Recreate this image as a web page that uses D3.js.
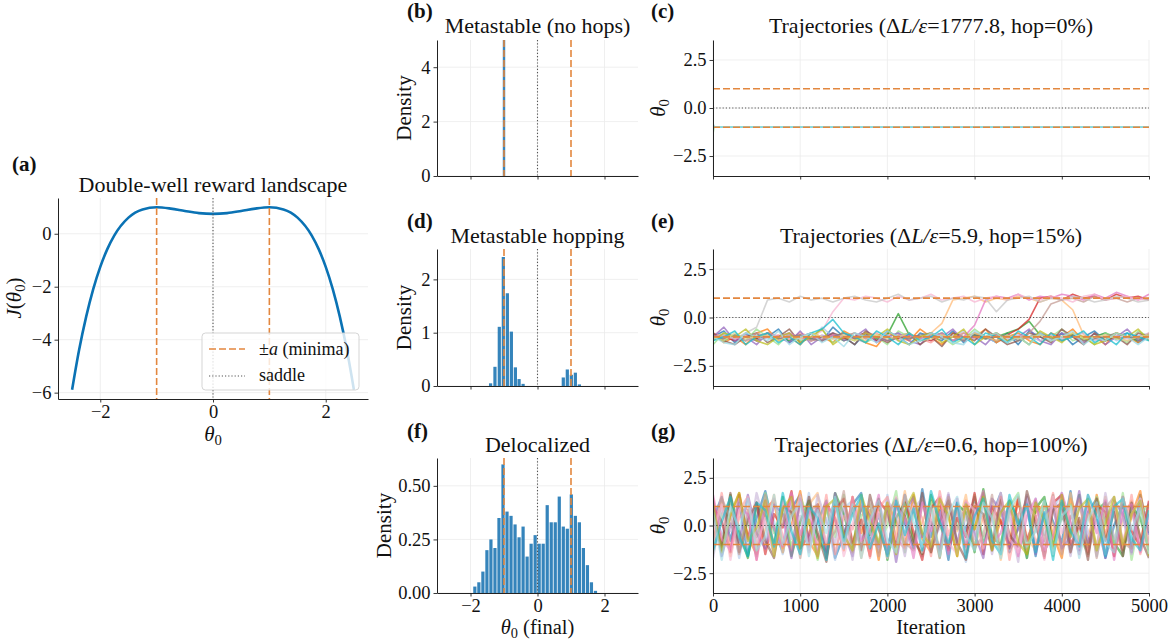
<!DOCTYPE html>
<html>
<head>
<meta charset="utf-8">
<script src="https://cdn.jsdelivr.net/npm/d3@7"></script>
<style>
body{margin:0;background:#fff}
svg text{font-family:"Liberation Serif","Times New Roman",serif;fill:#111}
</style>
</head>
<body>
<svg id="fig" width="1168" height="640"></svg>
<script>
// ---------- data ----------
const aTheta = [-2.5,-2.375,-2.25,-2.125,-2,-1.875,-1.75,-1.5,-1.25,-1,-0.75,-0.5,-0.25,0,0.25,0.5,0.75,1,1.25,1.5,1.75,1.875,2,2.125,2.25,2.375,2.5];
const aJ = [-5.89,-4.38,-3.13,-2.09,-1.25,-0.58,-0.06,0.61,0.92,1.0,0.95,0.86,0.78,0.75,0.78,0.86,0.95,1.0,0.92,0.61,-0.06,-0.58,-1.25,-2.09,-3.13,-4.38,-5.89];
const minima = [-1, 1];
const saddle = [0];

const aXTicks = [-2, 0, 2], aXLabels = ['−2', '0', '2'];
const aYTicks = [-6, -4, -2, 0], aYLabels = ['−6', '−4', '−2', '0'];
const histXTicks = [-2, 0, 2], histXLabels = ['−2', '0', '2'];
const bYTicks = [0, 2, 4], bYLabels = ['0', '2', '4'];
const dYTicks = [0, 1, 2], dYLabels = ['0', '1', '2'];
const fYTicks = [0, 0.25, 0.5], fYLabels = ['0.00', '0.25', '0.50'];
const trajXTicks = [0, 1000, 2000, 3000, 4000, 5000];
const trajXLabels = ['0', '1000', '2000', '3000', '4000', '5000'];
const trajYTicks = [-2.5, 0, 2.5], trajYLabels = ['−2.5', '0.0', '2.5'];

// histograms (bin centres, density)
const bBins = [-1.0], bDensity = [5.0], bWidth = 0.09;
const dBins = [-1.40,-1.27,-1.14,-1.02,-0.90,-0.78,-0.66,-0.55,-0.43,0.77,0.89,1.01,1.13,1.25];
const dDensity = [0.05,0.36,1.11,2.42,1.74,1.02,0.35,0.13,0.04,0.16,0.31,0.21,0.25,0.03];
const dWidth = 0.12;
const fBins = [-1.87,-1.75,-1.63,-1.51,-1.39,-1.27,-1.15,-1.03,-0.91,-0.79,-0.67,-0.55,-0.43,-0.31,-0.19,-0.07,0.05,0.17,0.29,0.41,0.53,0.65,0.77,0.89,1.01,1.13,1.25,1.37,1.49,1.61,1.73];
const fDensity = [0.03,0.05,0.10,0.20,0.25,0.21,0.35,0.60,0.38,0.36,0.32,0.26,0.31,0.17,0.23,0.27,0.23,0.23,0.41,0.33,0.33,0.45,0.31,0.30,0.46,0.36,0.33,0.21,0.13,0.05,0.01];
const fWidth = 0.12;

const tab20 = ['#1f77b4','#aec7e8','#ff7f0e','#ffbb78','#2ca02c','#98df8a','#d62728','#ff9896','#9467bd','#c5b0d5',
               '#8c564b','#c49c94','#e377c2','#f7b6d2','#7f7f7f','#c7c7c7','#bcbd22','#dbdb8d','#17becf','#9edae5'];

// (c) trajectories: all stuck at the left well
const cIters = [0, 12, 5000];
const cTraj = [[-1.35,-1.0,-1.0],[-0.8,-1.0,-1.0],[-1.1,-1.0,-1.0]];
const cColors = ['#98df8a','#17becf','#9edae5'];

// (e) trajectories, sampled evenly over 0..5000 iterations
const eTraj = [
 [-1.0,-0.7,-1.3,-0.8,-1.2,-1.0,-0.6,-1.3,-1.0,-0.8,-1.2,-0.5,-1.0,-1.4,-0.8,-1.2,-0.7,-1.0,-1.4,-0.8,-1.0,-1.2,-0.7,-1.3,-0.9,-1.0,-1.3,-0.8,-1.4,-0.7,-1.0,-1.2,-0.8,-1.4,-1.0,-0.7,-1.2,-1.0,-0.8,-1.3,-1.0],
 [-1.1,-0.8,-1.0,-1.2,-0.9,-1.1,-1.0,-0.8,-1.2,-1.1,-0.5,-1.0,-0.9,-1.1,-1.3,-0.9,-1.0,-0.8,-1.1,-1.0,-1.2,-0.9,-1.0,-0.7,-1.1,-1.0,-1.3,-0.9,-1.0,-1.1,-0.8,-1.0,-1.2,-0.9,-1.1,-1.0,-0.8,-1.2,-1.0,-0.9,-1.1],
 [-0.8,-1.3,-1.0,-1.4,-0.8,-0.6,-1.2,-1.0,-1.4,-0.8,-1.0,-1.3,-0.7,-1.0,-1.3,-1.5,-0.8,-1.0,-1.2,-0.6,-1.0,-1.4,-0.8,-1.2,-1.0,-0.6,-1.3,-1.0,-0.8,-1.2,-1.4,-0.8,-1.0,-0.6,-1.2,-1.0,-1.4,-0.8,-1.0,-1.3,-0.8],
 [-1.0,-1.1,-0.9,-1.2,-1.0,-0.8,-1.1,-1.0,-0.9,-1.2,-1.0,-1.1,-0.8,-1.0,-1.2,-0.9,-1.0,-1.1,-0.9,-1.0,-0.8,-0.3,0.9,1.0,1.1,0.8,1.0,0.9,1.1,1.0,0.8,1.0,0.9,0.4,-0.9,-1.0,-1.1,-0.8,-1.0,-1.2,-0.9],
 [-1.0,-1.2,-0.9,-1.0,-1.1,-0.8,-1.0,-1.2,-0.9,-1.1,-1.0,-0.9,-1.2,-1.0,-0.8,-1.1,-0.9,0.2,-0.9,-1.1,-1.0,-0.8,-1.2,-1.0,-0.9,-1.1,-1.0,-0.8,-0.6,-0.2,-0.9,-1.0,-1.2,-0.9,-1.1,-1.0,-0.8,-1.1,-1.0,-1.2,-0.9],
 [-1.4,-0.8,-1.0,-1.2,-0.6,-1.0,-1.4,-0.8,-1.2,-1.0,-0.6,-1.3,-1.0,-0.8,-1.3,-1.0,-1.4,-0.7,-1.0,-1.2,-0.8,-1.0,-1.4,-1.1,-0.6,-1.0,-0.8,-1.3,-1.0,-1.4,-0.8,-1.0,-0.6,-1.2,-1.0,-1.4,-0.8,-1.0,-1.3,-0.7,-1.0],
 [-0.9,-1.0,-1.2,-1.0,-1.1,-0.8,-1.0,-1.1,-0.9,-1.2,-1.0,-0.9,-1.1,-1.0,-0.8,-1.2,-1.0,-1.1,-0.9,-1.0,-1.2,-0.9,-1.0,-1.1,-0.8,-1.0,-1.2,-0.9,-0.6,-0.1,1.0,1.1,0.9,1.2,1.0,1.1,0.9,1.2,1.0,1.1,0.9],
 [-0.8,-1.0,-1.1,-0.9,-1.2,-1.0,-0.9,-1.1,-0.8,-1.0,-1.2,-1.0,-0.9,-1.1,-1.0,-0.8,-1.2,-0.9,-1.0,-1.1,-1.3,-0.9,-1.0,-0.8,-1.1,-1.0,-0.9,-1.2,-1.0,-1.1,-0.9,-1.0,-1.2,-0.8,-1.0,-1.1,-0.9,-1.0,-1.2,-1.0,-0.9],
 [-1.0,-0.5,-1.2,-1.0,-1.4,-0.8,-1.0,-1.3,-0.7,-1.4,-1.0,-0.8,-1.2,-1.0,-0.6,-1.3,-1.0,-0.8,-1.2,-1.4,-0.8,-1.0,-0.6,-1.2,-1.0,-1.4,-0.8,-1.2,-1.0,-0.6,-1.2,-1.4,-0.8,-1.0,-1.3,-0.8,-1.4,-1.0,-0.6,-1.2,-1.0],
 [-1.1,-1.0,-0.9,-1.2,-1.0,-0.8,-1.1,-0.9,-1.0,-1.2,-0.9,-1.1,-1.0,-0.8,-1.1,-1.0,-0.9,-1.2,-1.0,-1.1,-0.8,-1.0,-0.9,-1.2,-1.1,-1.0,-0.8,-1.1,-0.9,-1.0,-1.2,-0.9,-1.1,-1.0,-0.8,-1.2,-1.0,-0.9,-1.1,-1.0,-0.8],
 [-0.8,-1.2,-1.4,-1.0,-0.8,-1.3,-1.0,-0.6,-1.3,-1.0,-1.2,-0.8,-1.0,-1.4,-0.7,-1.0,-1.3,-1.0,-0.8,-1.4,-1.0,-1.5,-0.8,-1.0,-1.2,-0.6,-1.0,-1.4,-1.2,-0.8,-1.0,-1.3,-0.6,-1.0,-1.4,-0.8,-1.2,-1.0,-1.4,-0.8,-1.0],
 [-1.1,-0.9,-1.0,-1.2,-0.8,-1.0,-1.1,-0.9,-1.0,-1.2,-1.1,-0.9,-1.0,-0.8,-1.1,-1.0,-1.2,-0.9,-1.0,-1.1,-0.9,-1.0,-1.2,-0.8,-1.0,-1.1,-0.9,-1.0,-1.1,-0.8,-0.2,0.7,0.9,1.0,0.8,1.1,0.9,1.0,0.8,1.0,0.9],
 [-1.0,-0.9,-1.1,-1.0,-1.2,-0.9,-1.0,-0.8,-1.1,-1.0,-1.2,-0.9,-1.0,-1.1,-0.8,-1.0,-1.2,-1.0,-0.9,-1.1,-1.0,-0.8,-1.2,-1.0,-0.4,0.9,1.1,1.0,1.2,0.9,1.1,1.0,1.2,1.1,0.9,1.2,1.0,1.3,1.1,0.9,1.2],
 [-1.0,-1.1,-0.9,-1.0,-1.2,-0.8,-1.0,-1.1,-0.9,-1.0,-0.7,0.3,1.0,0.9,1.1,1.0,0.8,1.1,0.9,1.0,1.2,0.9,1.0,1.1,0.8,1.0,1.1,0.9,1.2,1.0,0.9,1.1,1.0,0.8,1.1,1.2,0.9,1.0,1.1,0.9,1.0],
 [-1.0,-1.1,-0.9,-1.0,-1.2,-0.8,-1.1,-1.0,-0.9,-1.1,-1.2,-1.0,-0.8,-1.1,-0.9,-1.0,-1.2,-1.0,-1.1,-0.9,-0.8,-1.1,-1.0,-1.2,-0.9,-1.1,-1.0,-0.9,-1.2,-1.0,-0.8,-1.1,-1.0,-0.9,-1.2,-1.1,-1.0,-0.8,-1.0,-1.1,-0.9],
 [-1.0,-0.9,-1.1,-0.8,-0.5,0.9,1.0,0.8,1.1,0.9,1.0,0.8,1.0,1.1,0.9,0.8,1.0,1.2,0.9,1.0,1.1,0.8,1.0,0.9,1.1,1.0,0.3,0.9,1.0,1.1,0.8,1.0,0.9,1.1,1.0,0.8,0.9,1.1,1.0,0.8,0.9],
 [-1.2,-0.8,-1.0,-0.6,-1.2,-1.4,-1.0,-0.8,-1.3,-1.0,-0.6,-1.4,-1.0,-1.2,-0.8,-1.0,-0.6,-1.2,-1.4,-1.0,-0.8,-1.3,-1.0,-0.6,-1.4,-1.0,-0.8,-1.2,-1.0,-1.4,-0.7,-1.0,-1.3,-0.8,-1.0,-1.4,-1.2,-0.8,-1.0,-0.6,-1.2],
 [-1.0,-1.2,-0.8,-1.1,-1.0,-0.9,-1.2,-1.0,-1.1,-0.8,-1.0,-1.1,-0.9,-1.2,-1.0,-0.9,-1.1,-1.0,-0.8,-1.2,-1.1,-0.9,-1.0,-1.1,-0.8,-1.0,-1.2,-0.9,-1.1,-1.0,-0.9,-1.2,-1.0,-0.8,-1.1,-1.0,-0.9,-1.1,-1.2,-1.0,-0.9],
 [-1.2,-1.0,-0.7,-1.4,-1.0,-0.8,-1.3,-1.0,-1.4,-0.8,-0.6,-0.1,-0.8,-1.0,-1.3,-0.7,-1.0,-1.4,-0.8,-1.2,-1.0,-0.6,-1.3,-1.0,-1.4,-0.8,-1.0,-1.3,-0.7,-1.0,-1.4,-0.8,-1.2,-1.0,-0.7,-1.3,-1.0,-1.4,-0.8,-1.0,-1.2],
 [-1.0,-1.3,-1.4,-0.8,-1.0,-1.2,-0.7,-1.4,-1.0,-0.8,-1.3,-1.0,-1.5,-0.8,-1.0,-1.3,-0.7,-1.0,-1.4,-1.2,-0.8,-1.0,-1.3,-1.4,-0.7,-1.0,-0.8,-1.3,-1.0,-1.4,-0.8,-1.2,-1.0,-0.7,-1.4,-1.0,-1.2,-0.8,-1.0,-1.4,-1.0]
];
const eColors = tab20;

// (g) trajectories, sampled evenly over 0..5000 iterations
const gTraj = [
 [0.3,1.5,-0.8,1.2,-1.6,0.4,1.8,-0.2,-1.4,0.9,1.6,-1.1,0.2,1.3,-1.7,-0.5,1.1,1.7,-0.9,0.6,-1.5,1.4,0.1,-1.2,1.9,-0.6,0.8,-1.8,1.2,-0.3,1.5,-1.0,0.5,1.7,-1.4,-0.1,1.0,-1.6,1.3,0.2,-0.9,1.8,-1.3,0.7,1.4,-1.7,0.0,1.1,-1.2,1.6,-0.4],
 [-1.2,-0.4,1.1,-1.7,0.6,-0.9,1.4,0.2,-1.5,1.0,-0.6,1.7,-1.3,0.4,-1.8,0.9,1.3,-0.7,0.1,-1.4,1.6,-1.0,0.5,1.2,-1.6,-0.2,1.5,-1.1,0.8,-1.9,0.3,1.6,-0.8,1.1,-1.3,0.6,-1.7,1.4,-0.5,0.9,1.7,-1.2,-0.3,1.3,-1.6,0.4,1.0,-1.4,0.7,-0.9,1.2],
 [1.4,-1.0,0.5,1.7,-0.6,-1.5,0.9,1.3,-1.2,0.0,1.8,-0.8,-1.6,1.1,0.4,-1.3,1.5,-0.4,0.8,-1.8,1.2,0.2,-1.1,1.6,-0.7,-1.4,1.0,0.6,-1.6,1.3,-0.2,1.7,-1.2,0.3,-0.9,1.5,-1.5,0.7,1.1,-0.5,-1.7,1.4,0.1,-1.0,1.6,-0.6,1.2,-1.3,0.5,1.8,-1.1],
 [-0.5,1.2,-1.6,0.7,1.5,-1.1,-0.2,1.6,-1.4,0.8,-0.7,1.1,1.7,-1.5,0.3,-1.0,1.4,-1.7,0.6,1.0,-1.3,-0.4,1.8,-0.9,0.2,1.3,-1.6,0.9,-0.3,1.6,-1.2,0.5,1.0,-1.8,0.7,1.4,-0.6,-1.3,1.2,0.0,-1.5,1.7,-0.8,0.6,-1.1,1.5,-1.6,0.3,1.3,-0.7,0.9],
 [0.8,-1.3,1.6,-0.3,-1.7,1.1,0.5,-1.0,1.5,-1.6,0.2,1.3,-0.7,-1.4,1.7,0.6,-1.1,1.0,-0.5,1.4,-1.8,0.4,1.2,-0.8,-1.5,1.6,0.1,-1.2,1.1,0.7,-1.4,1.9,-0.6,-1.0,1.3,0.3,-1.7,0.9,1.5,-1.1,0.5,-0.4,1.6,-1.5,0.8,1.2,-0.9,-1.6,1.0,0.4,-1.3],
 [-1.5,0.6,1.3,-0.9,0.2,-1.6,1.7,-0.4,1.0,-1.2,1.5,0.3,-1.8,0.9,-0.6,1.6,-1.3,0.5,1.1,-1.0,0.0,1.8,-1.4,0.7,-0.5,1.2,-1.7,1.4,0.1,-1.1,1.6,-0.8,0.6,-1.5,1.0,1.7,-1.2,-0.2,1.3,-1.6,0.8,1.1,-0.7,-1.4,1.5,0.2,-1.0,1.7,-1.8,0.6,1.1],
 [1.0,0.2,-1.4,1.6,-0.7,1.2,-1.5,0.6,-0.1,1.8,-1.2,-0.5,1.1,-1.7,0.8,1.4,-0.9,0.3,-1.6,1.3,0.7,-1.1,1.6,-0.4,-1.8,0.9,1.5,-1.3,0.4,-0.6,1.7,-1.5,1.0,0.2,-1.2,1.4,-0.8,0.5,-1.7,1.2,1.6,-1.0,0.0,-1.4,1.1,0.7,-1.6,1.5,-0.3,-1.1,1.3],
 [-0.8,1.7,-1.2,0.4,1.0,-1.8,0.7,1.4,-0.6,-1.3,1.2,0.1,-1.0,1.6,-1.5,0.5,-0.2,1.3,-1.7,0.9,1.5,-0.7,-1.2,1.0,0.4,-1.6,1.8,-0.5,0.8,-1.4,1.1,0.3,-1.1,1.5,-1.8,0.6,1.2,-0.9,-0.1,1.7,-1.3,0.4,1.4,-1.6,0.9,-0.4,1.0,-1.2,1.6,-1.5,0.2],
 [1.3,-1.6,0.1,-0.9,1.6,-0.4,-1.2,1.1,0.6,-1.7,1.4,-0.8,0.9,-1.4,1.7,-0.3,-1.6,1.2,0.5,-1.1,1.0,-1.9,0.7,1.5,-0.6,0.2,-1.3,1.6,-1.0,1.2,-0.4,-1.7,1.4,0.8,-1.1,-0.2,1.5,-1.5,0.6,1.0,-1.2,-0.6,1.8,-0.9,0.3,-1.7,1.3,0.6,-1.4,1.1,-0.5],
 [-1.7,0.9,-0.3,1.4,-1.1,1.7,0.0,-1.5,1.2,-0.7,0.5,-1.3,1.6,0.2,-0.9,1.1,-1.8,1.5,-0.4,-1.2,1.3,0.6,-1.6,0.9,1.4,-1.0,-0.1,1.7,-1.4,0.5,-0.7,1.2,-1.5,1.0,0.4,-1.9,1.6,-0.2,-1.0,1.3,0.8,-1.6,1.1,-0.3,-1.2,1.7,-0.7,0.4,-1.5,1.4,-1.0],
 [0.5,-1.1,1.7,-1.4,0.3,1.2,-0.8,-1.7,1.0,0.7,-1.2,1.5,-0.4,-1.9,1.3,-0.6,0.9,-1.3,1.6,-0.2,-1.5,1.1,0.5,-1.0,1.7,-1.4,0.2,1.3,-0.9,-1.8,1.0,0.6,-1.3,1.5,-0.5,-1.1,1.8,0.1,-1.6,0.8,1.2,-1.4,0.4,-1.8,1.4,-0.8,0.7,-1.6,1.2,-0.6,-1.7],
 [-1.0,1.4,0.4,-1.5,0.8,-0.6,1.6,-1.2,0.2,1.3,-1.7,0.7,1.1,-1.0,-0.3,1.8,-1.4,0.0,1.2,-1.6,0.6,1.4,-0.9,-1.3,1.1,0.3,-1.7,1.5,-0.2,1.0,-1.2,-0.5,1.6,-1.4,0.9,0.1,-1.3,1.3,-0.8,1.6,-1.5,0.5,-0.1,1.2,-1.7,0.9,1.5,-0.9,-1.2,1.0,-0.3],
 [1.6,-0.7,-1.3,1.0,0.6,-1.8,1.3,-0.1,-1.1,1.7,-0.5,0.9,-1.6,1.2,0.3,-1.2,1.5,-0.8,-0.2,1.6,-1.4,1.0,0.4,-1.7,1.2,-0.3,0.7,-1.5,1.4,-1.1,0.6,1.8,-1.0,-0.4,1.1,-1.6,0.5,1.4,-1.3,-0.6,1.7,0.2,-1.5,1.0,-0.4,1.3,-1.8,0.8,1.1,-1.4,0.6],
 [-0.3,1.1,-1.8,0.8,1.5,-1.0,0.4,-1.5,1.3,-0.2,1.6,-1.4,0.6,-0.9,1.2,-1.6,0.1,1.4,-1.1,0.7,-1.7,1.5,-0.6,1.1,-1.4,0.3,1.6,-0.9,-1.5,1.3,0.8,-1.2,0.2,1.7,-0.7,-1.4,1.0,0.5,-1.8,1.5,-0.4,0.9,-1.2,1.6,0.0,-1.5,1.2,-0.8,0.6,1.4,-1.2],
 [1.1,-1.4,0.6,1.7,-0.8,-0.1,1.3,-1.6,0.9,1.5,-1.2,0.3,-1.7,1.0,1.4,-0.5,-1.3,1.6,0.2,-0.9,1.2,-1.5,0.8,1.7,-0.4,-1.1,1.4,0.5,-1.6,1.1,-0.2,1.5,-1.3,0.7,1.3,-0.9,-1.5,1.2,0.3,-1.2,1.6,-0.6,0.9,1.4,-1.3,0.1,1.5,-1.0,0.6,1.3,-1.6],
 [-1.3,0.2,1.5,-0.6,-1.6,1.2,0.8,-1.1,1.7,-0.3,-1.5,1.0,0.4,-1.8,1.4,-0.8,0.6,1.6,-1.2,0.1,-1.6,1.3,-0.5,0.9,-1.3,1.8,0.2,-1.0,1.2,-1.7,0.5,1.4,-0.8,-1.5,1.6,0.0,1.1,-1.4,0.7,-1.8,1.3,-0.3,-1.1,1.6,0.5,-1.6,1.0,1.4,-0.7,-1.3,0.8],
 [0.7,-1.8,1.0,-0.2,1.4,-1.3,-0.6,1.6,-1.0,0.5,1.2,-1.6,0.8,-0.4,1.5,-1.2,1.1,-1.7,0.3,1.3,-0.8,-1.4,1.6,0.2,-1.1,1.0,-1.6,0.6,1.5,-0.5,-1.3,1.2,0.4,-1.7,0.8,1.6,-1.1,-0.3,1.3,-1.5,0.5,1.0,-1.7,0.3,1.2,-0.9,-1.4,1.5,-0.2,0.9,-1.5]
];
const gColors = ['#1f77b4','#aec7e8','#ff7f0e','#ffbb78','#2ca02c','#98df8a','#d62728','#ff9896','#9467bd','#c5b0d5',
                 '#8c564b','#c49c94','#e377c2','#f7b6d2','#bcbd22','#17becf','#9edae5'];

// ---------- style ----------
const TICK_FS = 18.5, LABEL_FS = 21, TITLE_FS = 22, TAG_FS = 21, LEGEND_FS = 18;
const ORANGE = '#e3873f', SADDLE = '#555', BAR = '#1f77b4', CURVE = '#0a72b4';
const GRID = '#ebebeb', SPINE = '#222';

const svg = d3.select('#fig');
const defs = svg.append('defs');
let clipId = 0;

function makeAxes(box, xDom, yDom, o) {
	const x = d3.scaleLinear().domain(xDom).range([box.x0, box.x1]);
	const y = d3.scaleLinear().domain(yDom).range([box.y1, box.y0]);
	const g = svg.append('g');
	const id = 'clip' + (clipId++);
	defs.append('clipPath').attr('id', id).append('rect')
		.attr('x', box.x0).attr('y', box.y0)
		.attr('width', box.x1 - box.x0).attr('height', box.y1 - box.y0);

	const grid = g.append('g');
	grid.selectAll('line.gx').data(o.xt).enter().append('line')
		.attr('x1', d => x(d)).attr('x2', d => x(d))
		.attr('y1', box.y0).attr('y2', box.y1)
		.attr('stroke', GRID).attr('stroke-width', 0.8);
	grid.selectAll('line.gy').data(o.yt).enter().append('line')
		.attr('y1', d => y(d)).attr('y2', d => y(d))
		.attr('x1', box.x0).attr('x2', box.x1)
		.attr('stroke', GRID).attr('stroke-width', 0.8);

	const plot = g.append('g').attr('clip-path', `url(#${id})`);
	const top = svg.append('g');   // axes drawn later, above content

	const xa = d3.axisBottom(x).tickValues(o.xt).tickSize(3.5).tickSizeOuter(0).tickPadding(2)
		.tickFormat((d, i) => o.xl ? o.xl[i] : '');
	const ya = d3.axisLeft(y).tickValues(o.yt).tickSize(3.5).tickSizeOuter(0).tickPadding(3)
		.tickFormat((d, i) => o.yl[i]);
	const gx = top.append('g').attr('transform', `translate(0,${box.y1})`).call(xa);
	const gy = top.append('g').attr('transform', `translate(${box.x0},0)`).call(ya);
	[gx, gy].forEach(a => {
		a.attr('font-family', '"Liberation Serif", serif');
		a.select('.domain').attr('stroke', SPINE).attr('stroke-width', 1);
		a.selectAll('.tick line').attr('stroke', SPINE).attr('stroke-width', 0.9);
		a.selectAll('.tick text').attr('font-size', TICK_FS).attr('fill', '#111');
	});
	return {x, y, plot, box};
}

function vlines(ax, vals, color, dash, width) {
	ax.plot.selectAll(null).data(vals).enter().append('line')
		.attr('x1', d => ax.x(d)).attr('x2', d => ax.x(d))
		.attr('y1', ax.box.y0).attr('y2', ax.box.y1)
		.attr('stroke', color).attr('stroke-dasharray', dash).attr('stroke-width', width);
}
function hlines(ax, vals, color, dash, width) {
	ax.plot.selectAll(null).data(vals).enter().append('line')
		.attr('y1', d => ax.y(d)).attr('y2', d => ax.y(d))
		.attr('x1', ax.box.x0).attr('x2', ax.box.x1)
		.attr('stroke', color).attr('stroke-dasharray', dash).attr('stroke-width', width);
}

function text(x, y, parts, size, opts = {}) {
	const t = svg.append('text').attr('font-size', size)
		.attr('text-anchor', opts.anchor || 'middle')
		.attr('font-weight', opts.bold ? 'bold' : null);
	if (opts.rotate) t.attr('transform', `translate(${x},${y}) rotate(-90)`);
	else t.attr('x', x).attr('y', y);
	parts.forEach(p => {
		if (typeof p === 'string') { t.append('tspan').text(p); return; }
		const s = t.append('tspan').text(p.t);
		if (p.i) s.attr('font-style', 'italic');
		if (p.sub) s.attr('font-size', size * 0.7).attr('dy', size * 0.18);
		if (p.up) s.attr('dy', -size * 0.18);
	});
	return t;
}
const theta0 = [{t: 'θ', i: true}, {t: '0', sub: true}];

// ---------- (a) landscape ----------
const A = makeAxes({x0: 58, x1: 368, y0: 198, y1: 399}, [-2.75, 2.75], [-6.24, 1.35],
	{xt: aXTicks, xl: aXLabels, yt: aYTicks, yl: aYLabels});
A.plot.append('path')
	.datum(aTheta.map((t, i) => [t, aJ[i]]))
	.attr('d', d3.line().x(d => A.x(d[0])).y(d => A.y(d[1])).curve(d3.curveMonotoneX))
	.attr('fill', 'none').attr('stroke', CURVE).attr('stroke-width', 2.6);
vlines(A, minima, ORANGE, '7,3', 1.6);
vlines(A, saddle, SADDLE, '1.2,2', 1.1);

// legend
const lg = svg.append('g');
lg.append('rect').attr('x', 202).attr('y', 333).attr('width', 157).attr('height', 57).attr('rx', 3.5)
	.attr('fill', 'white').attr('fill-opacity', 0.8).attr('stroke', '#d0d0d0').attr('stroke-width', 0.9);
lg.append('line').attr('x1', 209).attr('x2', 245).attr('y1', 349).attr('y2', 349)
	.attr('stroke', ORANGE).attr('stroke-dasharray', '7,3').attr('stroke-width', 1.6);
lg.append('line').attr('x1', 209).attr('x2', 245).attr('y1', 376).attr('y2', 376)
	.attr('stroke', SADDLE).attr('stroke-dasharray', '1.2,2').attr('stroke-width', 1.1);
text(259, 355, ['±', {t: 'a', i: true}, ' (minima)'], LEGEND_FS, {anchor: 'start'});
text(259, 381, ['saddle'], LEGEND_FS, {anchor: 'start'});

text(213, 192, ['Double-well reward landscape'], TITLE_FS);
text(213, 441, theta0, LABEL_FS);
text(21, 298, [{t: 'J', i: true}, '(', {t: 'θ', i: true}, {t: '0', sub: true}, {t: ')', up: true}], LABEL_FS, {rotate: true});
text(12, 171, ['(a)'], TAG_FS, {anchor: 'start', bold: true});

// ---------- histograms ----------
function histPanel(box, yDom, yt, yl, bins, dens, w, showX) {
	const ax = makeAxes(box, [-3, 3], yDom, {xt: histXTicks, xl: showX ? histXLabels : null, yt, yl});
	ax.plot.selectAll('rect').data(bins).enter().append('rect')
		.attr('x', d => ax.x(d - w * 0.4))
		.attr('width', d => ax.x(d + w * 0.4) - ax.x(d - w * 0.4))
		.attr('y', (d, i) => ax.y(dens[i]))
		.attr('height', (d, i) => ax.y(0) - ax.y(dens[i]))
		.attr('fill', BAR).attr('fill-opacity', 0.9);
	vlines(ax, saddle, SADDLE, '1.2,2', 1.1);
	vlines(ax, minima, ORANGE, '7,3', 1.6);
	return ax;
}
const B = histPanel({x0: 437, x1: 638, y0: 40, y1: 176}, [0, 5], bYTicks, bYLabels, bBins, bDensity, bWidth, false);
const D = histPanel({x0: 437, x1: 638, y0: 249, y1: 386}, [0, 2.57], dYTicks, dYLabels, dBins, dDensity, dWidth, false);
const F = histPanel({x0: 437, x1: 638, y0: 458, y1: 593}, [0, 0.63], fYTicks, fYLabels, fBins, fDensity, fWidth, true);

[[B, 'Metastable (no hops)', 33, '(b)', 18, 411], [D, 'Metastable hopping', 243, '(d)', 228, 411], [F, 'Delocalized', 452, '(f)', 438, 391]]
	.forEach(([ax, title, ty, tag, tagy, lx]) => {
		text(537.5, ty, [title], TITLE_FS);
		text(407, tagy, [tag], TAG_FS, {anchor: 'start', bold: true});
		text(lx, (ax.box.y0 + ax.box.y1) / 2, ['Density'], LABEL_FS, {rotate: true});
	});
text(537.5, 634, [...theta0, {t: ' (final)', up: true}], 20.5);

// ---------- trajectories ----------
function trajPanel(box, showX) {
	return makeAxes(box, [0, 5000], [-3.54, 3.54],
		{xt: trajXTicks, xl: showX ? trajXLabels : null, yt: trajYTicks, yl: trajYLabels});
}
function drawTraj(ax, series, colors, width, opacity) {
	const line = d3.line()
		.x((v, i, arr) => ax.x(i * 5000 / (arr.length - 1)))
		.y(v => ax.y(v));
	ax.plot.selectAll(null).data(series).enter().append('path')
		.attr('d', line)
		.attr('fill', 'none')
		.attr('stroke', (d, i) => colors[i % colors.length])
		.attr('stroke-width', width).attr('stroke-opacity', opacity)
		.attr('stroke-linejoin', 'round');
}
function refLines(ax) {
	hlines(ax, saddle, SADDLE, '1.2,2', 1.1);
	hlines(ax, minima, ORANGE, '7,3', 1.6);
}

const C = trajPanel({x0: 713, x1: 1149, y0: 40, y1: 176}, false);
const cLine = d3.line().x((v, i) => C.x(cIters[i])).y(v => C.y(v));
C.plot.selectAll(null).data(cTraj).enter().append('path')
	.attr('d', cLine).attr('fill', 'none')
	.attr('stroke', (d, i) => cColors[i]).attr('stroke-width', 1.6).attr('stroke-opacity', 0.8);
refLines(C);

const E = trajPanel({x0: 713, x1: 1149, y0: 249, y1: 386}, false);
drawTraj(E, eTraj, eColors, 1.6, 0.75);
refLines(E);

const G = trajPanel({x0: 713, x1: 1149, y0: 458, y1: 593}, true);
drawTraj(G, gTraj, gColors, 2.4, 0.6);
refLines(G);

const trajTitle = (val, hop) => ['Trajectories (Δ', {t: 'L/ε', i: true}, `=${val}, hop=${hop}%)`];
[[C, trajTitle('1777.8', 0), 33, '(c)', 18], [E, trajTitle('5.9', 15), 243, '(e)', 228], [G, trajTitle('0.6', 100), 452, '(g)', 438]]
	.forEach(([ax, title, ty, tag, tagy]) => {
		text(931, ty, title, TITLE_FS);
		text(651, tagy, [tag], TAG_FS, {anchor: 'start', bold: true});
		text(665, (ax.box.y0 + ax.box.y1) / 2, theta0, LABEL_FS, {rotate: true});
	});
text(931, 634, ['Iteration'], 20.5);
</script>
</body>
</html>
